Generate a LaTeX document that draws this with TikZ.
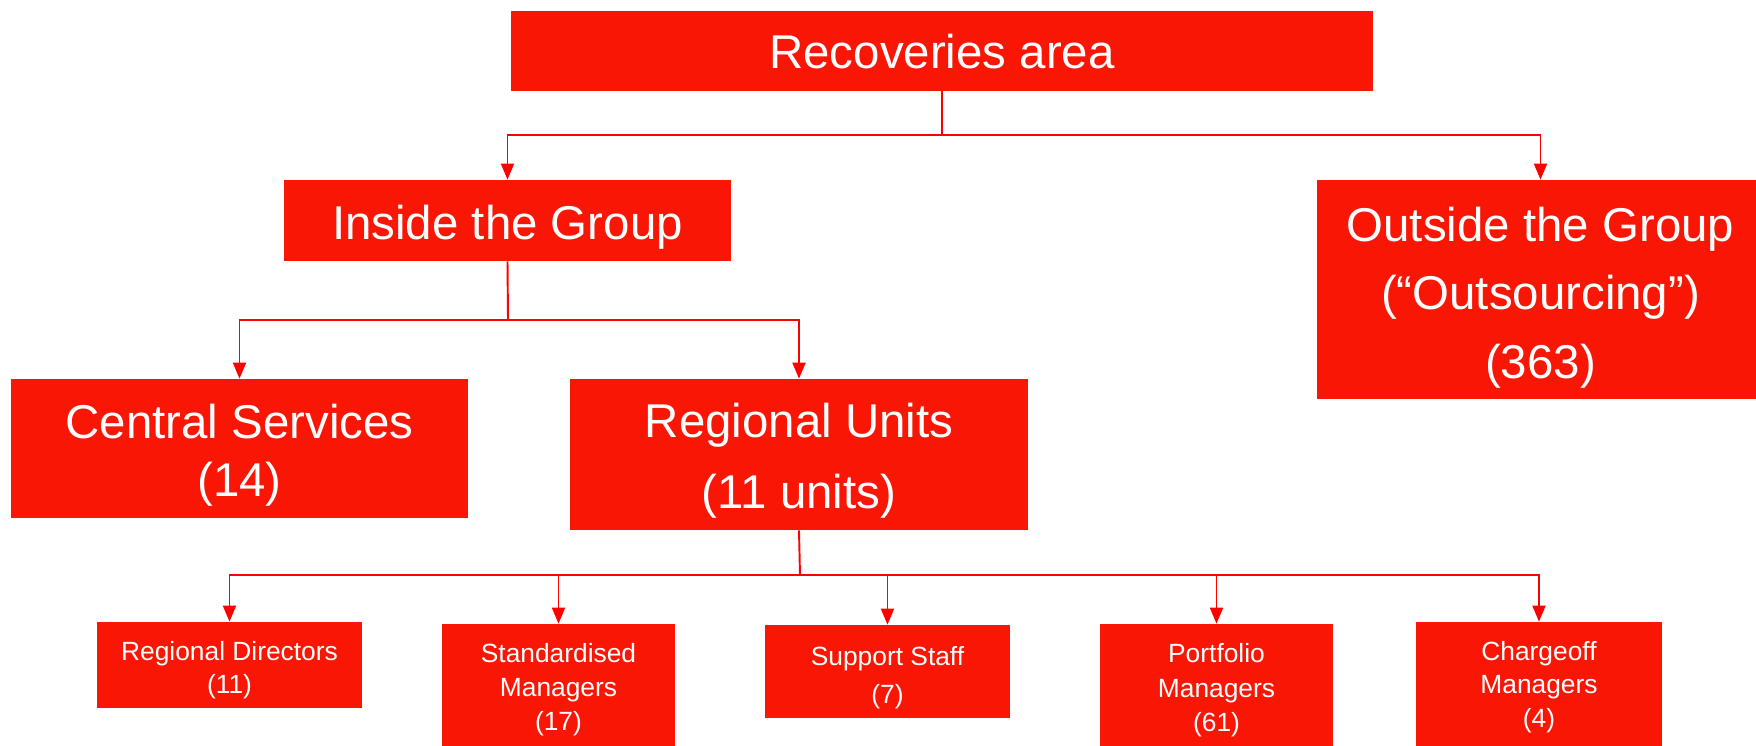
\documentclass[tikz,border=0pt]{standalone}
\usepackage{fontspec}
\setmainfont{Liberation Sans}
\usetikzlibrary{arrows.meta}
\definecolor{boxred}{RGB}{250,22,5}
% raise the top of the first line, so the text sits lower in its box
\newcommand{\lowered}[1]{\rule{0pt}{\dimexpr0.73em+#1\relax}}
\tikzset{
	box/.style={rectangle, fill=boxred, text=white, align=center, inner sep=0pt},
	big/.style={font=\fontsize{27}{39}\selectfont},
	small/.style={font=\fontsize{15}{19}\selectfont},
	link/.style={draw=red, line width=1.1pt},
	tip/.style={link, -{Triangle[length=0.32cm, width=0.26cm]}}
}

\begin{document}
\begin{tikzpicture}[x=0.02cm, y=-0.02cm]
	\useasboundingbox (0,0) rectangle (1756,746);
	\clip (0,0) rectangle (1756,746);
	\node (rec) at (942,51) [box, big, minimum width=17.24cm, minimum height=1.6cm] {\lowered{1pt}Recoveries area};
		\node (in) at (507.5,220.5) [box, big, minimum width=8.94cm, minimum height=1.62cm] {\lowered{8pt}Inside the Group};
			\node (cs) at (239.5,448.5) [box, big, font=\fontsize{27}{33}\selectfont, minimum width=9.14cm, minimum height=2.78cm] {\lowered{7pt}Central Services\\(14)};
			\node (ru) at (799,454.5) [box, big, font=\fontsize{27}{40}\selectfont, minimum width=9.16cm, minimum height=3.02cm] {\lowered{7pt}Regional Units\\(11 units)};
				\node (rd) at (229.5,665) [box, small, minimum width=5.3cm, minimum height=1.72cm] {\lowered{5.6pt}Regional Directors\\(11)};
				\node (sm) at (558.5,688) [box, small, font=\fontsize{15}{19.5}\selectfont, minimum width=4.66cm, minimum height=2.56cm] {\lowered{2pt}Standardised\\Managers\\(17)};
				\node (ss) at (887.5,671.5) [box, small, font=\fontsize{15}{22}\selectfont, minimum width=4.9cm, minimum height=1.86cm] {\lowered{6.8pt}Support Staff\\(7)};
				\node (pm) at (1216.5,688) [box, small, font=\fontsize{15}{19.5}\selectfont, minimum width=4.66cm, minimum height=2.56cm] {\lowered{2.4pt}Portfolio\\Managers\\(61)};
				\node (cm) at (1539,687) [box, small, minimum width=4.92cm, minimum height=2.6cm] {Chargeoff\\Managers\\(4)};
		\node (out) at (1540.5,289.5) [box, big, minimum width=8.94cm, minimum height=4.38cm] {\lowered{9pt}Outside the Group\\(“Outsourcing”)\\(363)};
	\coordinate (j1) at (942,135);
	\coordinate (j2) at (508,320);
	\coordinate (j3) at (800,575);
	\draw[link] (rec.south) -- (j1);
	\draw[tip] (j1) -| (in.north);
	\draw[tip] (j1) -| (out.north);
	\draw[link] (in.south) -- (j2);
	\draw[tip] (j2) -| (cs.north);
	\draw[tip] (j2) -| (ru.north);
	\draw[link] (ru.south) -- (j3);
	\draw[tip] (j3) -| (rd.north);
	\draw[tip] (j3) -| (sm.north);
	\draw[tip] (j3) -| (ss.north);
	\draw[tip] (j3) -| (pm.north);
	\draw[tip] (j3) -| (cm.north);
\end{tikzpicture}
\end{document}
